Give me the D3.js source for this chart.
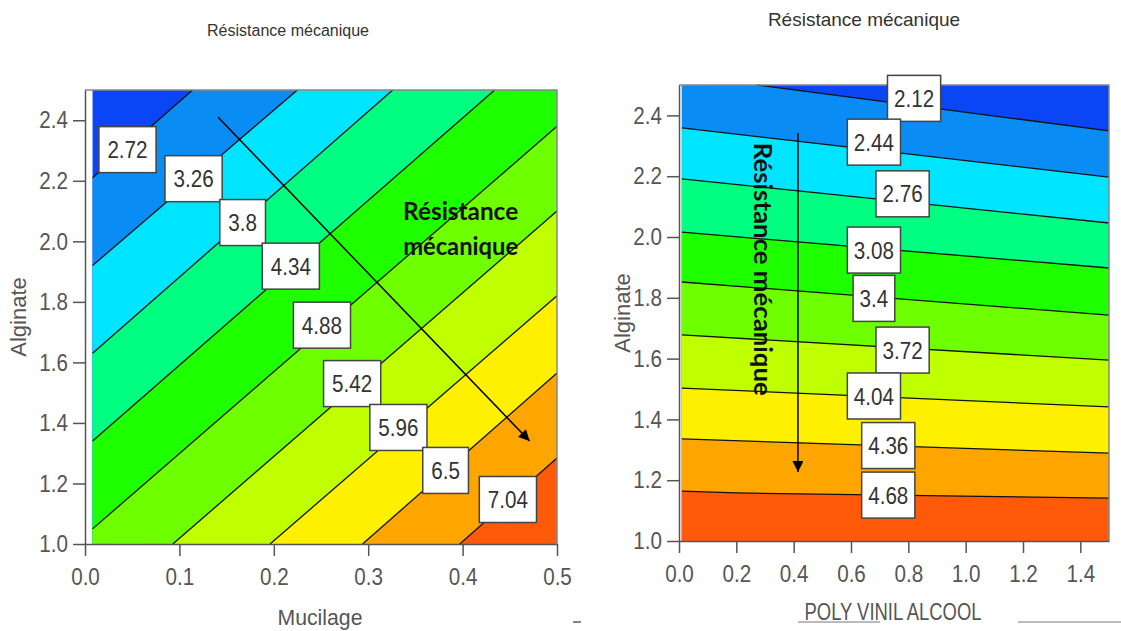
<!DOCTYPE html>
<html>
<head>
<meta charset="utf-8">
<script src="https://cdn.jsdelivr.net/npm/d3@7"></script>
<style>
    body { margin: 0; background: #fff; }
    .tick text, .axis-title { font-family: "Liberation Sans", Arial, sans-serif; fill: #555; }
    .level-label { font-family: "Liberation Sans", Arial, sans-serif; fill: #333; }
</style>
</head>
<body>
<div id="chart"></div>
<script>

// band colours, lowest level first (same palette in both panels)
const bandColors = ["#0a46f5", "#0a8cf5", "#00e5ff", "#00ff80", "#1eff00",
                    "#6eff00", "#bfff00", "#fff000", "#ffa500", "#ff5a0a"];

/* ---------- left panel : Mucilage x Alginate ---------- */
const mucilageTicks = [0, 0.1, 0.2, 0.3, 0.4, 0.5];
const mucilageMinor = [0.05, 0.15, 0.25, 0.35, 0.45];
const alginateTicks = [1.0, 1.2, 1.4, 1.6, 1.8, 2.0, 2.2, 2.4];
const alginateMinor = [1.1, 1.3, 1.5, 1.7, 1.9, 2.1, 2.3, 2.5];
const mucilageFillStart = 0.008;

const levelsMucilage = [2.72, 3.26, 3.8, 4.34, 4.88, 5.42, 5.96, 6.5, 7.04];
// iso-lines, [mucilage, alginate]
const isolinesMucilage = [
    [[0.008, 2.21], [0.114, 2.5]],
    [[0.008, 1.92], [0.225, 2.5]],
    [[0.008, 1.63], [0.326, 2.5]],
    [[0.008, 1.34], [0.434, 2.5]],
    [[0.008, 1.05], [0.5, 2.38]],
    [[0.093, 1.0], [0.5, 2.10]],
    [[0.196, 1.0], [0.5, 1.82]],
    [[0.294, 1.0], [0.5, 1.565]],
    [[0.397, 1.0], [0.5, 1.284]]
];
const labelsMucilage = [
    [0.045, 2.303], [0.115, 2.207], [0.167, 2.062], [0.218, 1.918], [0.251, 1.723],
    [0.283, 1.530], [0.332, 1.385], [0.382, 1.243], [0.448, 1.147]
];
const arrowMucilage = [[0.141, 2.41], [0.471, 1.34]];

/* ---------- right panel : Poly vinil alcool x Alginate ---------- */
const pvaTicks = [0, 0.2, 0.4, 0.6, 0.8, 1.0, 1.2, 1.4];
const pvaMinor = [0.1, 0.3, 0.5, 0.7, 0.9, 1.1, 1.3, 1.5];
const pvaFillStart = 0.01;

const levelsPva = [2.12, 2.44, 2.76, 3.08, 3.4, 3.72, 4.04, 4.36, 4.68];
const isolinesPva = [
    [[0.272, 2.5], [1.5, 2.349]],
    [[0.01, 2.359], [1.5, 2.197]],
    [[0.01, 2.191], [1.5, 2.046]],
    [[0.01, 2.016], [1.5, 1.898]],
    [[0.01, 1.852], [1.5, 1.743]],
    [[0.01, 1.678], [1.5, 1.595]],
    [[0.01, 1.503], [1.5, 1.441]],
    [[0.01, 1.336], [1.5, 1.289]],
    [[0.01, 1.164], [0.2, 1.158], [1.5, 1.141]]
];
const labelsPva = [
    [0.82, 2.456], [0.68, 2.312], [0.78, 2.142], [0.68, 1.957], [0.68, 1.798],
    [0.78, 1.628], [0.68, 1.477], [0.73, 1.314], [0.73, 1.151]
];
const arrowPva = [[0.415, 2.342], [0.415, 1.227]];

const narrow = 0.86;   // the source font is a condensed one

let svg = d3.select("#chart").append("svg")
    .attr("width", 1121)
    .attr("height", 631);

svg.append("defs").append("marker")
    .attr("id", "arrowhead")
    .attr("viewBox", "0 0 10 10")
    .attr("refX", 10).attr("refY", 5)
    .attr("markerWidth", 13).attr("markerHeight", 11)
    .attr("markerUnits", "userSpaceOnUse")
    .attr("orient", "auto")
    .append("path")
    .attr("d", "M0,0 L10,5 L0,10 Z")
    .attr("fill", "#000");

// polygon of the area above a level: the iso-line, then round the frame clockwise
function bandPolygon(pts, r) {
    const eps = 0.6;
    const t = p => {
        if (Math.abs(p[1] - r.y0) < eps) return (p[0] - r.x0) / (r.x1 - r.x0);
        if (Math.abs(p[0] - r.x1) < eps) return 1 + (p[1] - r.y0) / (r.y1 - r.y0);
        if (Math.abs(p[1] - r.y1) < eps) return 2 + (r.x1 - p[0]) / (r.x1 - r.x0);
        return 3 + (r.y1 - p[1]) / (r.y1 - r.y0);
    };
    const corners = [[r.x0, r.y0], [r.x1, r.y0], [r.x1, r.y1], [r.x0, r.y1]];
    const tB = t(pts[pts.length - 1]);
    let tA = t(pts[0]);
    if (tA <= tB) tA += 4;
    const poly = pts.slice();
    for (let k = Math.floor(tB) + 1; k < tA; k++) poly.push(corners[k % 4]);
    return poly;
}

function drawPanel(p) {
    let g = svg.append("g");

    let x = d3.scaleLinear().domain(p.xDomain).range(p.xRange);
    let y = d3.scaleLinear().domain([1.0, 2.5]).range(p.yRange);

    let rect = {x0: x(p.fillStart), x1: x(p.xDomain[1]), y0: y(2.5), y1: y(1.0)};
    let line = d3.line().x(d => x(d[0])).y(d => y(d[1]));

    // lowest band fills the whole area
    g.append("rect")
        .attr("x", rect.x0).attr("y", rect.y0)
        .attr("width", rect.x1 - rect.x0).attr("height", rect.y1 - rect.y0)
        .attr("fill", bandColors[0]);

    g.selectAll(".band")
        .data(p.isolines)
        .enter().append("path")
        .attr("class", "band")
        .attr("d", d => "M" + bandPolygon(d.map(q => [x(q[0]), y(q[1])]), rect).join("L") + "Z")
        .attr("fill", (d, i) => bandColors[i + 1]);

    g.selectAll(".iso")
        .data(p.isolines)
        .enter().append("path")
        .attr("class", "iso")
        .attr("d", line)
        .attr("fill", "none")
        .attr("stroke", "#111")
        .attr("stroke-width", 1.3);

    // frame
    g.append("path")
        .attr("d", "M" + x(p.xDomain[0]) + "," + y(2.5) + "H" + x(p.xDomain[1]) + "V" + y(1.0))
        .attr("fill", "none").attr("stroke", "#888").attr("stroke-width", 1.5);

    // axes
    let yAxis = g.append("g").attr("transform", "translate(" + x(p.xDomain[0]) + ",0)");
    yAxis.call(d3.axisLeft(y).tickValues(alginateMinor).tickSize(7).tickSizeOuter(0).tickFormat(""));
    yAxis.call(d3.axisLeft(y).tickValues(alginateTicks).tickSize(12).tickSizeOuter(0).tickPadding(5)
        .tickFormat(d3.format(".1f")));
    yAxis.selectAll(".tick text")
        .attr("x", -17 / narrow)
        .attr("transform", "scale(" + narrow + ",1)");
    let xAxis = g.append("g").attr("transform", "translate(0," + y(1.0) + ")");
    xAxis.call(d3.axisBottom(x).tickValues(p.xMinor).tickSize(6).tickSizeOuter(0).tickFormat(""));
    xAxis.call(d3.axisBottom(x).tickValues(p.xTicks).tickSize(12).tickSizeOuter(0).tickPadding(12)
        .tickFormat(d3.format(".1f")));
    xAxis.selectAll(".tick text").attr("transform", "scale(" + narrow + ",1)");
    g.selectAll(".domain").attr("stroke", "#555").attr("stroke-width", 1.5);
    g.selectAll(".tick line").attr("stroke", "#555").attr("stroke-width", 1.5);
    g.selectAll(".tick text").attr("font-size", 24).attr("fill", "#555");

    // arrow
    g.append("path")
        .attr("d", line(p.arrow))
        .attr("stroke", "#000").attr("stroke-width", 1.5)
        .attr("marker-end", "url(#arrowhead)");

    // level labels in boxes
    let labels = g.selectAll(".lab")
        .data(p.levels)
        .enter().append("g")
        .attr("transform", (d, i) => "translate(" + x(p.labels[i][0]) + "," + y(p.labels[i][1]) + ")");
    labels.append("rect").attr("class", "box");
    labels.append("text")
        .attr("class", "level-label")
        .attr("text-anchor", "middle")
        .attr("dy", "0.36em")
        .attr("font-size", 24)
        .attr("transform", "scale(" + narrow + ",1)")
        .text(d => d);
    labels.each(function() {
        let lab = d3.select(this);
        let w = lab.select("text").node().getComputedTextLength() * narrow + p.boxPad;
        lab.select("rect")
            .attr("x", -w / 2).attr("y", -23)
            .attr("width", w).attr("height", 46)
            .attr("fill", "#fff").attr("stroke", "#444").attr("stroke-width", 1.5);
    });

    // titles
    svg.append("text")
        .attr("x", p.title.x).attr("y", p.title.y)
        .attr("text-anchor", "middle")
        .attr("font-family", "Liberation Sans, Arial, sans-serif")
        .attr("font-size", p.title.size)
        .attr("fill", "#333")
        .text("Résistance mécanique");

    svg.append("text")
        .attr("class", "axis-title")
        .attr("transform", "translate(" + p.yTitleX + "," + (y(1.0) + y(2.5)) / 2 + ") rotate(-90)")
        .attr("text-anchor", "middle")
        .attr("dy", "0.35em")
        .attr("font-size", 22)
        .text("Alginate");

    svg.append("text")
        .attr("class", "axis-title")
        .attr("x", p.xTitle.x).attr("y", p.xTitle.y)
        .attr("text-anchor", "middle")
        .attr("font-size", p.xTitle.size)
        .attr("textLength", p.xTitle.len)
        .attr("lengthAdjust", "spacingAndGlyphs")
        .text(p.xTitle.text);

    return {x: x, y: y};
}

let left = drawPanel({
    xDomain: [0, 0.5], xRange: [85, 557], yRange: [544, 90],
    fillStart: mucilageFillStart,
    xTicks: mucilageTicks, xMinor: mucilageMinor,
    levels: levelsMucilage, isolines: isolinesMucilage, labels: labelsMucilage,
    arrow: arrowMucilage, boxPad: 17,
    title: {x: 288, y: 36, size: 16},
    yTitleX: 18,
    xTitle: {x: 320, y: 625, text: "Mucilage", size: 22, len: 85}
});

let right = drawPanel({
    xDomain: [0, 1.5], xRange: [679, 1109], yRange: [541, 85],
    fillStart: pvaFillStart,
    xTicks: pvaTicks, xMinor: pvaMinor,
    levels: levelsPva, isolines: isolinesPva, labels: labelsPva,
    arrow: arrowPva, boxPad: 13,
    title: {x: 864, y: 26, size: 19},
    yTitleX: 622,
    xTitle: {x: 893, y: 620, text: "POLY VINIL ALCOOL", size: 24, len: 177}
});

// annotations
svg.append("text")
    .attr("font-family", "Lato, 'Open Sans', sans-serif")
    .attr("font-weight", "bold")
    .attr("font-size", 24)
    .attr("fill", "#111")
    .selectAll("tspan")
    .data(["Résistance", "mécanique"])
    .enter().append("tspan")
    .attr("x", left.x(0.337))
    .attr("y", (d, i) => left.y(i ? 1.955 : 2.07))
    .attr("textLength", 115)
    .attr("lengthAdjust", "spacingAndGlyphs")
    .text(d => d);

svg.append("text")
    .attr("transform", "translate(" + right.x(0.26) + "," + right.y(2.31) + ") rotate(90)")
    .attr("font-family", "Lato, 'Open Sans', sans-serif")
    .attr("font-weight", "bold")
    .attr("font-size", 24)
    .attr("fill", "#111")
    .attr("textLength", 253)
    .attr("lengthAdjust", "spacingAndGlyphs")
    .text("Résistance mécanique");

// stray underlines from the source document
svg.append("path").attr("d", "M573,622H581").attr("stroke", "#333").attr("stroke-width", 1.2);
svg.append("path").attr("d", "M798,622H880M1018,622H1121").attr("stroke", "#777").attr("stroke-width", 1);

</script>
</body>
</html>
